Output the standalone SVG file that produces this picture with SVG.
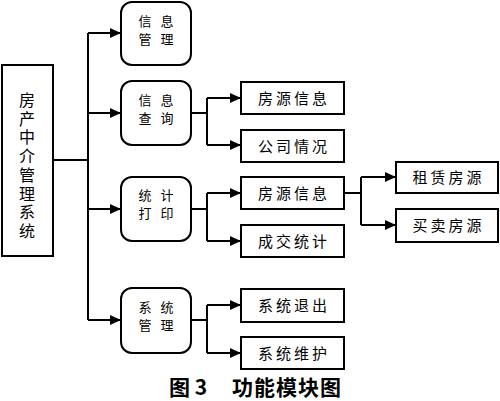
<svg xmlns="http://www.w3.org/2000/svg" width="500" height="401" viewBox="0 0 500 401">
<defs>
<marker id="ah" markerUnits="userSpaceOnUse" markerWidth="12" markerHeight="10" refX="11" refY="5" orient="auto">
<path d="M0,0 L11,5 L0,10 Z" fill="#000"/>
</marker>
<style>
.box{fill:#fff;stroke:#000;stroke-width:2}
.t{font-family:"Noto Sans CJK SC",sans-serif;font-size:15px;fill:#000;text-anchor:middle}
.t1{font-family:"Noto Sans CJK SC",sans-serif;font-size:13px;fill:#000;text-anchor:middle;letter-spacing:9px}
.v{font-family:"Noto Sans CJK SC",sans-serif;font-size:16px;fill:#000;writing-mode:vertical-rl;letter-spacing:2.7px}
.c{fill:none;stroke:#000;stroke-width:2}
.cap{font-family:"Noto Sans CJK SC",sans-serif;font-size:21px;font-weight:bold;fill:#000}
</style>
</defs>
<rect width="500" height="401" fill="#fff"/>
<g id="connectors">
<polyline class="c" points="53,160 88,160"/>
<polyline class="c" points="88,33 88,320"/>
<line class="c" x1="88" y1="33" x2="121" y2="33" marker-end="url(#ah)"/>
<line class="c" x1="88" y1="113" x2="121" y2="113" marker-end="url(#ah)"/>
<line class="c" x1="88" y1="209" x2="121" y2="209" marker-end="url(#ah)"/>
<line class="c" x1="88" y1="320" x2="121" y2="320" marker-end="url(#ah)"/>
<polyline class="c" points="191,113 207,113"/>
<polyline class="c" points="207,98 207,145"/>
<line class="c" x1="207" y1="98" x2="241" y2="98" marker-end="url(#ah)"/>
<line class="c" x1="207" y1="145" x2="241" y2="145" marker-end="url(#ah)"/>
<polyline class="c" points="191,209 207,209"/>
<polyline class="c" points="207,193 207,241"/>
<line class="c" x1="207" y1="193" x2="241" y2="193" marker-end="url(#ah)"/>
<line class="c" x1="207" y1="241" x2="241" y2="241" marker-end="url(#ah)"/>
<polyline class="c" points="191,320 207,320"/>
<polyline class="c" points="207,305 207,353"/>
<line class="c" x1="207" y1="305" x2="241" y2="305" marker-end="url(#ah)"/>
<line class="c" x1="207" y1="353" x2="241" y2="353" marker-end="url(#ah)"/>
<polyline class="c" points="344,193 361,193"/>
<polyline class="c" points="361,177 361,225"/>
<line class="c" x1="361" y1="177" x2="396" y2="177" marker-end="url(#ah)"/>
<line class="c" x1="361" y1="225" x2="396" y2="225" marker-end="url(#ah)"/>
</g>
<g id="main">
<rect class="box" x="2" y="65" width="51" height="191"/>
<text class="v" x="27" y="92">房产中介管理系统</text>
</g>
<g id="n-xxgl">
<rect class="box" x="121" y="2" width="70" height="63" rx="11"/>
<text class="t1" x="160.5" y="26">信息</text>
<text class="t1" x="160.5" y="44">管理</text>
</g>
<g id="n-xxcx">
<rect class="box" x="121" y="81" width="70" height="64" rx="11"/>
<text class="t1" x="160.5" y="105">信息</text>
<text class="t1" x="160.5" y="123">查询</text>
</g>
<g id="n-tjdy">
<rect class="box" x="121" y="177" width="70" height="64" rx="11"/>
<text class="t1" x="160.5" y="200">统计</text>
<text class="t1" x="160.5" y="218">打印</text>
</g>
<g id="n-xtgl">
<rect class="box" x="121" y="288" width="70" height="65" rx="11"/>
<text class="t1" x="160.5" y="312">系统</text>
<text class="t1" x="160.5" y="330">管理</text>
</g>
<g id="n-fyxx1">
<rect class="box" x="241" y="82" width="103" height="32"/>
<text class="t" x="294" y="103.5" letter-spacing="3">房源信息</text>
</g>
<g id="n-gsqk">
<rect class="box" x="241" y="130" width="103" height="32"/>
<text class="t" x="294" y="151.5" letter-spacing="3">公司情况</text>
</g>
<g id="n-fyxx2">
<rect class="box" x="241" y="177" width="103" height="32"/>
<text class="t" x="294" y="198.5" letter-spacing="3">房源信息</text>
</g>
<g id="n-cjtj">
<rect class="box" x="241" y="225" width="103" height="32"/>
<text class="t" x="294" y="246.5" letter-spacing="3">成交统计</text>
</g>
<g id="n-xttc">
<rect class="box" x="241" y="289" width="103" height="33"/>
<text class="t" x="294" y="310.5" letter-spacing="3">系统退出</text>
</g>
<g id="n-xtwh">
<rect class="box" x="241" y="337" width="103" height="32"/>
<text class="t" x="294" y="358.5" letter-spacing="3">系统维护</text>
</g>
<g id="n-zlfy">
<rect class="box" x="396" y="162" width="102" height="31"/>
<text class="t" x="448.5" y="182.5" letter-spacing="3">租赁房源</text>
</g>
<g id="n-mmfy">
<rect class="box" x="396" y="209" width="102" height="33"/>
<text class="t" x="448.5" y="230.5" letter-spacing="3">买卖房源</text>
</g>
<g id="caption">
<text class="cap" x="169" y="395">图 3</text>
<text class="cap" x="232" y="395" letter-spacing="1">功能模块图</text>
</g>
</svg>
